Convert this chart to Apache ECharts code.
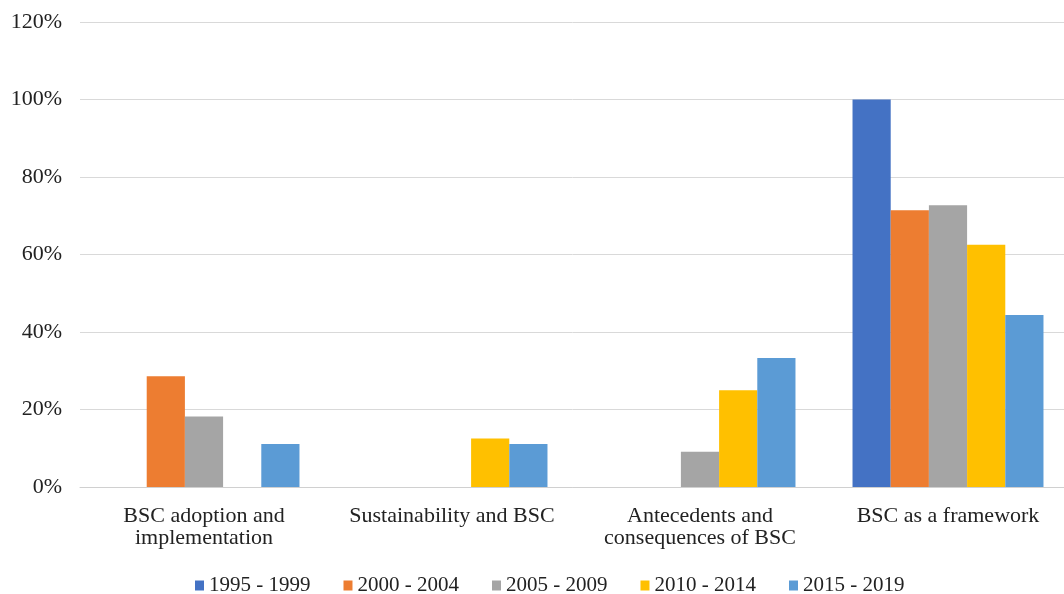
<!DOCTYPE html>
<html>
<head>
<meta charset="utf-8">
<script src="https://cdn.jsdelivr.net/npm/echarts@6/dist/echarts.min.js"></script>
<style>
  html, body { margin: 0; padding: 0; background: #fff; overflow: hidden; }
  #chart { width: 1064px; height: 594px; }
</style>
</head>
<body>
<div id="chart"></div>
<script>
// Research themes (x-axis categories)
const categories = [
  'BSC adoption and\nimplementation',
  'Sustainability and BSC',
  'Antecedents and\nconsequences of BSC',
  'BSC as a framework'
];

// Period names for the legend
const periods = ['1995 - 1999', '2000 - 2004', '2005 - 2009', '2010 - 2014', '2015 - 2019'];

// Share of articles per theme, in percent, one array per period
const p1995 = [0, 0, 0, 100];
const p2000 = [28.6, 0, 0, 71.4];
const p2005 = [18.2, 0, 9.1, 72.7];
const p2010 = [0, 12.5, 25.0, 62.5];
const p2015 = [11.1, 11.1, 33.3, 44.4];

// Y-axis range and step, in percent
const yMin = 0;
const yMax = 120;
const yStep = 20;

const palette = ['#4472C4', '#ED7D31', '#A5A5A5', '#FFC000', '#5B9BD5'];
const valuesByPeriod = [p1995, p2000, p2005, p2010, p2015];
const fontFamily = '"Liberation Serif", "Times New Roman", serif';

const chart = echarts.init(document.getElementById('chart'), null, { renderer: 'canvas' });

chart.setOption({
  animation: false,
  color: palette,
  textStyle: { fontFamily: fontFamily, color: '#222' },
  // plot area runs a little past the right edge of the canvas
  grid: {
    left: 80, width: 992, top: 22, bottom: 107,
    containLabel: false,
    outerBoundsMode: 'none'
  },
  legend: {
    data: periods,
    left: 190,
    top: 570,
    itemWidth: 9,
    itemHeight: 10,
    itemGap: 33,
    icon: 'rect',
    textStyle: { fontFamily: fontFamily, fontSize: 21, color: '#222' }
  },
  xAxis: {
    type: 'category',
    data: categories,
    axisTick: { show: false },
    axisLine: { lineStyle: { color: '#d0d0d0', width: 1 } },
    axisLabel: {
      interval: 0,
      margin: 18,
      fontFamily: fontFamily,
      fontSize: 22,
      lineHeight: 22,
      color: '#222'
    }
  },
  yAxis: {
    type: 'value',
    min: yMin,
    max: yMax,
    interval: yStep,
    axisLine: { show: false },
    axisTick: { show: false },
    splitLine: { lineStyle: { color: '#d9d9d9', width: 1 } },
    axisLabel: {
      formatter: '{value}%',
      margin: 18,
      fontFamily: fontFamily,
      fontSize: 22,
      color: '#222'
    }
  },
  series: periods.map((name, i) => ({
    name: name,
    type: 'bar',
    data: valuesByPeriod[i],
    barGap: '0%',
    barCategoryGap: '23%'
  }))
});
</script>
</body>
</html>
